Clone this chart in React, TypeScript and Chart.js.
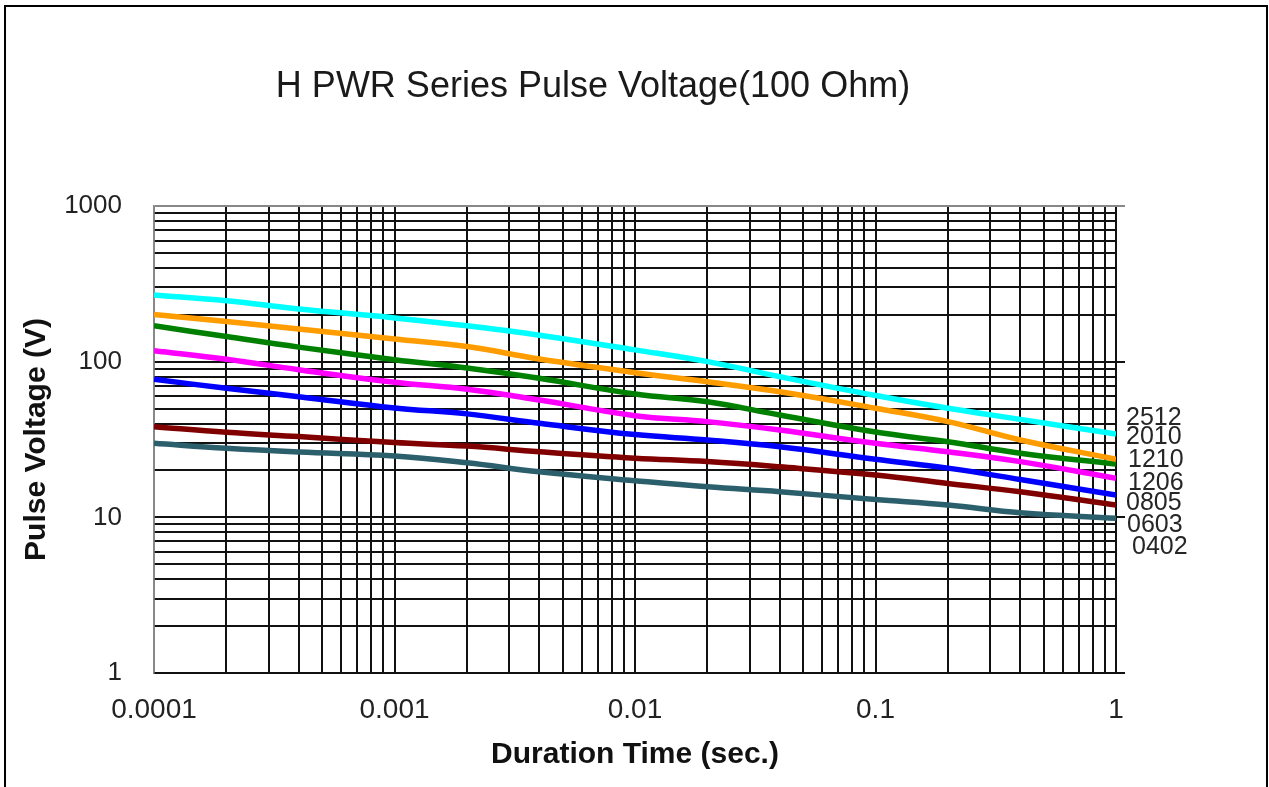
import React, { useEffect, useRef } from "react";
import { Chart, registerables } from "chart.js";

Chart.register(...registerables);

const chartTitle = "H PWR Series Pulse Voltage(100 Ohm)";
const xAxisTitle = "Duration Time (sec.)";
const yAxisTitle = "Pulse Voltage (V)";

const durations = [0.0001, 0.0002, 0.0004, 0.001, 0.002, 0.004, 0.01, 0.02, 0.04, 0.1, 0.2, 0.4, 1];

const v2512 = [268, 246, 218, 191, 170, 148, 119, 100, 80, 60.6, 50.2, 42.6, 34.3];
const v2010 = [201, 181, 162, 140, 125, 104, 85, 74.3, 64, 50.2, 41.2, 31.4, 23.6];
const v1210 = [170, 145, 124, 103, 91, 78.2, 62, 55.3, 45.4, 35.3, 30.6, 25.8, 22];
const v1206 = [117.6, 103.6, 88.8, 73.7, 66.5, 56.7, 45, 41.2, 36.4, 29.9, 26.4, 22.8, 17.8];
const v0805 = [77, 67.4, 59.6, 50.4, 46.2, 40.2, 34, 31.4, 28.4, 23.6, 20.7, 17.5, 13.9];
const v0603 = [38.2, 35.2, 33, 30.2, 28.7, 26.4, 24, 22.8, 21.1, 18.7, 16.5, 14.6, 12];
const v0402 = [29.9, 27.8, 26.3, 24.8, 22.4, 19.6, 17.2, 15.7, 14.6, 13, 12, 10.7, 9.86];

const seriesNames = ["2512", "2010", "1210", "1206", "0805", "0603", "0402"];
const seriesColors = ["#00FFFF", "#FF9C00", "#008000", "#FF00FF", "#0000FF", "#800000", "#2B5F6C"];
// where the right-hand size labels sit, in voltage units
const labelValues = [43.5, 32.8, 23.3, 16.6, 12.4, 8.93, 6.45];
const labelOffsets = [10, 10, 12, 12, 10, 11, 16];

const xMajorTicks = [0.0001, 0.001, 0.01, 0.1, 1];
const xTickLabels = ["0.0001", "0.001", "0.01", "0.1", "1"];
const yMajorTicks = [1, 10, 100, 1000];
const yTickLabels = ["1", "10", "100", "1000"];

const fontFamily = "'Liberation Sans', Arial, Helvetica, sans-serif";

function majorIndex(v: number, majors: number[]) {
  return majors.findIndex((m) => Math.abs(Math.log10(v) - Math.log10(m)) < 1e-6);
}

function buildLogTicks(majors: number[]) {
  const out: { value: number; major: boolean }[] = [];
  majors.forEach((m, i) => {
    out.push({ value: m, major: true });
    if (i < majors.length - 1) {
      for (let k = 2; k <= 9; k++) out.push({ value: m * k, major: false });
    }
  });
  return out;
}

export default function App() {
  const ref = useRef<HTMLCanvasElement>(null);

  useEffect(() => {
    const canvas = ref.current!;
    const seriesValues = [v2512, v2010, v1210, v1206, v0805, v0603, v0402];
    const datasets = seriesNames.map((name, i) => ({
      label: name,
      data: durations.map((d, j) => ({ x: d, y: seriesValues[i][j] })),
      borderColor: seriesColors[i],
      backgroundColor: seriesColors[i],
      borderWidth: 5.5,
      pointRadius: 0,
      pointHoverRadius: 0,
      tension: 0.4,
      fill: false,
    }));

    const decor = {
      id: "decor",
      afterDraw(chart: any) {
        const { ctx, chartArea, scales } = chart;
        ctx.save();
        // short tick marks right of the plot at each decade
        ctx.lineWidth = 2;
        yMajorTicks.forEach((v) => {
          const y = Math.round(scales.y.getPixelForValue(v));
          ctx.strokeStyle = v === 1000 ? "#888" : "#111";
          ctx.beginPath();
          ctx.moveTo(chartArea.right, y);
          ctx.lineTo(chartArea.right + 9, y);
          ctx.stroke();
        });
        // title
        ctx.fillStyle = "#1a1a1a";
        ctx.font = `36px ${fontFamily}`;
        ctx.textAlign = "center";
        ctx.textBaseline = "middle";
        ctx.fillText(chartTitle, 593, 87);
        // series labels
        ctx.font = `25px ${fontFamily}`;
        ctx.textAlign = "left";
        ctx.fillStyle = "#262626";
        seriesNames.forEach((n, i) => {
          ctx.fillText(n, chartArea.right + labelOffsets[i], scales.y.getPixelForValue(labelValues[i]));
        });
        // outer frame
        ctx.strokeStyle = "#000";
        ctx.lineWidth = 2;
        ctx.strokeRect(5, 6, 1262, 800);
        ctx.restore();
      },
    };

    const chart = new Chart(canvas, {
      type: "line",
      data: { datasets },
      options: {
        animation: false,
        responsive: false,
        devicePixelRatio: 1,
        layout: { padding: { left: 0, right: 153, top: 206, bottom: 0 } },
        plugins: {
          legend: { display: false },
          tooltip: { enabled: false },
          title: { display: false },
        },
        scales: {
          x: {
            type: "logarithmic",
            min: 0.0001,
            max: 1,
            afterBuildTicks: (s: any) => {
              s.ticks = buildLogTicks(xMajorTicks);
            },
            afterFit: (s: any) => {
              s.height = 114;
            },
            grid: {
              color: (c: any) => (c.index === 0 ? "#888" : "#111"),
              lineWidth: 2,
              drawTicks: false,
            },
            border: { display: true, color: "#111", width: 2 },
            ticks: {
              autoSkip: false,
              maxRotation: 0,
              minRotation: 0,
              padding: 20,
              color: "#222",
              font: { family: fontFamily, size: 28 },
              callback: (v: any) => {
                const i = majorIndex(Number(v), xMajorTicks);
                return i >= 0 ? xTickLabels[i] : "";
              },
            },
            title: {
              display: true,
              text: xAxisTitle,
              color: "#111",
              font: { family: fontFamily, size: 30, weight: "bold" },
              padding: { top: 0, bottom: 14 },
            },
          },
          y: {
            type: "logarithmic",
            min: 1,
            max: 1000,
            afterBuildTicks: (s: any) => {
              s.ticks = buildLogTicks(yMajorTicks);
            },
            afterFit: (s: any) => {
              s.width = 154;
            },
            grid: {
              color: (c: any) => (c.tick && c.tick.value === 1000 ? "#888" : "#111"),
              lineWidth: 2,
              drawTicks: false,
            },
            border: { display: true, color: "#888", width: 1.5 },
            ticks: {
              autoSkip: false,
              padding: 32,
              color: "#222",
              font: { family: fontFamily, size: 26 },
              callback: (v: any) => {
                const i = majorIndex(Number(v), yMajorTicks);
                return i >= 0 ? yTickLabels[i] : "";
              },
            },
            title: {
              display: true,
              text: yAxisTitle,
              color: "#111",
              font: { family: fontFamily, size: 30, weight: "bold" },
              padding: { top: 19, bottom: 0 },
            },
          },
        },
      } as any,
      plugins: [decor],
    });

    return () => {
      chart.destroy();
    };
  }, []);

  return (
    <div style={{ position: "absolute", left: 0, top: 0, width: 1269, height: 787, background: "#fff" }}>
      <canvas ref={ref} width={1269} height={787} style={{ display: "block", width: 1269, height: 787 }} />
    </div>
  );
}
